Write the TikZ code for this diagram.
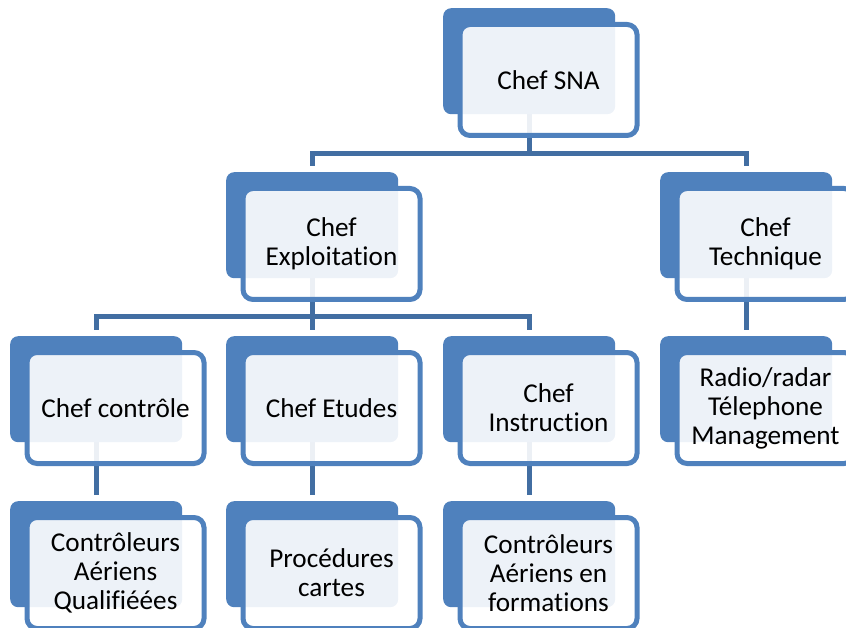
\documentclass[tikz,border=0pt]{standalone}
\usepackage{fontspec}
\setmainfont{Carlito}[Ligatures=NoCommon]
\pgfdeclarelayer{bg}
\pgfsetlayers{bg,main}
\definecolor{accent}{RGB}{79,129,189}
\definecolor{connc}{RGB}{66,110,162}
\tikzset{
  backbox/.style={anchor=north west, fill=accent, draw=none, rounded corners=8pt,
    minimum width=172pt, minimum height=106pt, inner sep=0pt},
  framebox/.style={anchor=center, draw=accent, line width=5pt, fill=white, fill opacity=0.9,
    text opacity=1, rounded corners=10pt, minimum width=177pt, minimum height=111pt,
    inner sep=0pt, align=center, text=black, font=\fontsize{27.2}{29}\selectfont},
  conn/.style={draw=connc, line width=5pt},
}
\newcommand{\orgnode}[4]{%
  \node[backbox] (#1-b) at (#2,#3) {};
  \node[framebox] (#1) at (#2+105.5,#3+72) {#4};
}
\begin{document}
\begin{tikzpicture}[x=1pt,y=-1pt]
\useasboundingbox (0,0) rectangle (846,628);
\clip (0,0) rectangle (846,628);
\orgnode{sna}{443}{8}{Chef SNA}
\orgnode{expl}{226}{172}{Chef\\Exploitation}
\orgnode{tech}{660}{172}{Chef\\Technique}
\orgnode{ctrl}{10}{336}{Chef contrôle}
\orgnode{etud}{226}{336}{Chef Etudes}
\orgnode{instr}{443}{336}{Chef\\Instruction}
\orgnode{radio}{660}{336}{Radio/radar\\Télephone\\Management}
\orgnode{cq}{10}{501}{Contrôleurs\\Aériens\\Qualifiéées}
\orgnode{proc}{226}{501}{Procédures\\cartes}
\orgnode{cf}{443}{501}{Contrôleurs\\Aériens en\\formations}
\coordinate (j1) at (sna-b.south |- 0,153.5);
\coordinate (j2) at (expl-b.south |- 0,317);
\begin{pgfonlayer}{bg}
  \draw[conn] (sna-b.south) -- (j1);
  \draw[conn, shorten <=6pt, shorten >=6pt] (expl-b.north) |- (j1) -| (tech-b.north);
  \draw[conn] (expl-b.south) -- (j2);
  \draw[conn, shorten <=6pt, shorten >=6pt] (ctrl-b.north) |- (j2) -| (instr-b.north);
  \draw[conn, shorten >=6pt] (j2) -- (etud-b.north);
  \draw[conn, shorten >=6pt] (tech-b.south) -- (radio-b.north);
  \draw[conn, shorten >=6pt] (ctrl-b.south) -- (cq-b.north);
  \draw[conn, shorten >=6pt] (etud-b.south) -- (proc-b.north);
  \draw[conn, shorten >=6pt] (instr-b.south) -- (cf-b.north);
\end{pgfonlayer}
\end{tikzpicture}
\end{document}
